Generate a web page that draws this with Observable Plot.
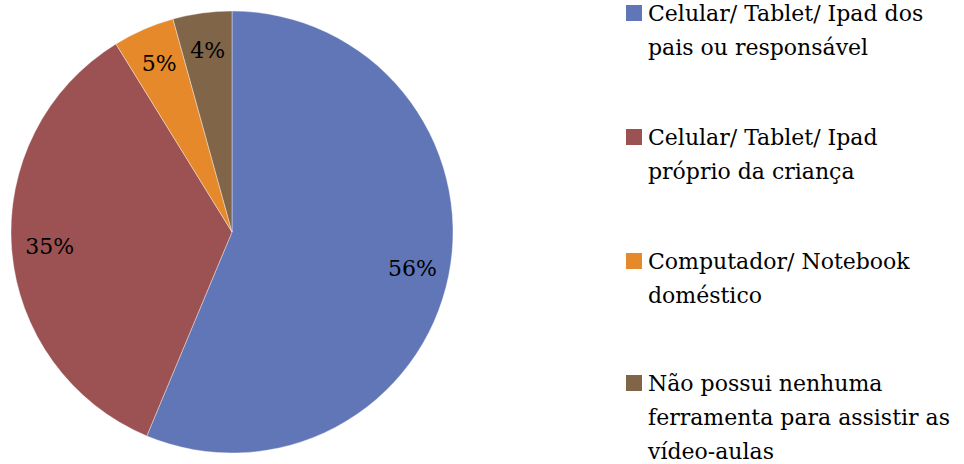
<!DOCTYPE html>
<html>
<head>
<meta charset="utf-8">
<script src="https://cdn.jsdelivr.net/npm/d3@7"></script>
<script src="https://cdn.jsdelivr.net/npm/@observablehq/plot@0.6"></script>
<style>
  html, body { margin: 0; padding: 0; background: #fff; }
  body { width: 964px; height: 464px; overflow: hidden; position: relative;
         font-family: "DejaVu Serif", "Times New Roman", serif; }
  #chart { position: absolute; left: 0; top: 0; }
  #legend { position: absolute; left: 624px; top: 0; width: 340px; }
  .item { position: absolute; left: 0; width: 340px; }
  .sw { position: absolute; left: 2px; width: 16px; height: 16px; }
  .lbl { position: absolute; left: 24px; font-size: 22px; line-height: 34px; color: #000; white-space: nowrap; }
</style>
</head>
<body>
<div id="chart"></div>
<div id="legend"></div>
<script>
const categories = [
  "Celular/ Tablet/ Ipad dos pais ou responsável",
  "Celular/ Tablet/ Ipad próprio da criança",
  "Computador/ Notebook doméstico",
  "Não possui nenhuma ferramenta para assistir as vídeo-aulas"
];
const legendLines = [
  ["Celular/ Tablet/ Ipad dos", "pais ou responsável"],
  ["Celular/ Tablet/ Ipad", "próprio da criança"],
  ["Computador/ Notebook", "doméstico"],
  ["Não possui nenhuma", "ferramenta para assistir as", "vídeo-aulas"]
];
const values = [56.3, 34.9, 4.5, 4.3];
const labels = ["56%", "35%", "5%", "4%"];
const colors = ["#6076B7", "#9C5153", "#E6892A", "#806548"];

const data = categories.map((c, i) => ({category: c, value: values[i], label: labels[i], color: colors[i]}));
const arcs = d3.pie().sort(null).value(d => d.value)(data);
const labelR = 0.83;
const labelData = arcs.map(a => {
  const m = (a.startAngle + a.endAngle) / 2;
  return {label: a.data.label, x: Math.sin(m) * labelR, y: -Math.cos(m) * labelR};
});

const chart = Plot.plot({
  width: 620,
  height: 464,
  marginTop: 11, marginBottom: 11, marginLeft: 11, marginRight: 167,
  x: {type: "linear", domain: [-1, 1], axis: null},
  y: {type: "linear", domain: [1, -1], axis: null},
  style: {fontFamily: "'DejaVu Serif', serif", background: "#fff"},
  marks: [
    (index, scales) => {
      const cx = scales.x(0), cy = scales.y(0);
      const r = scales.x(1) - scales.x(0);
      const arc = d3.arc().innerRadius(0).outerRadius(r);
      const g = d3.create("svg:g").attr("transform", `translate(${cx},${cy})`);
      g.selectAll("path").data(arcs).join("path")
        .attr("d", arc)
        .attr("fill", d => d.data.color)
        .attr("stroke", "#ffffff")
        .attr("stroke-opacity", 0.5)
        .attr("stroke-width", 0.75);
      return g.node();
    },
    Plot.text(labelData, {x: "x", y: "y", text: "label", fontSize: 22, fill: "#000", textAnchor: "middle", lineAnchor: "middle"})
  ]
});
document.getElementById("chart").appendChild(chart);

const legend = d3.select("#legend");
const itemTops = [0, 124, 248, 370];
data.forEach((d, i) => {
  const it = legend.append("div").attr("class", "item").style("top", itemTops[i] + "px");
  it.append("div").attr("class", "sw").style("top", "5px").style("background", d.color);
  it.append("div").attr("class", "lbl").style("top", "-3px").html(legendLines[i].join("<br>"));
});
</script>
</body>
</html>
